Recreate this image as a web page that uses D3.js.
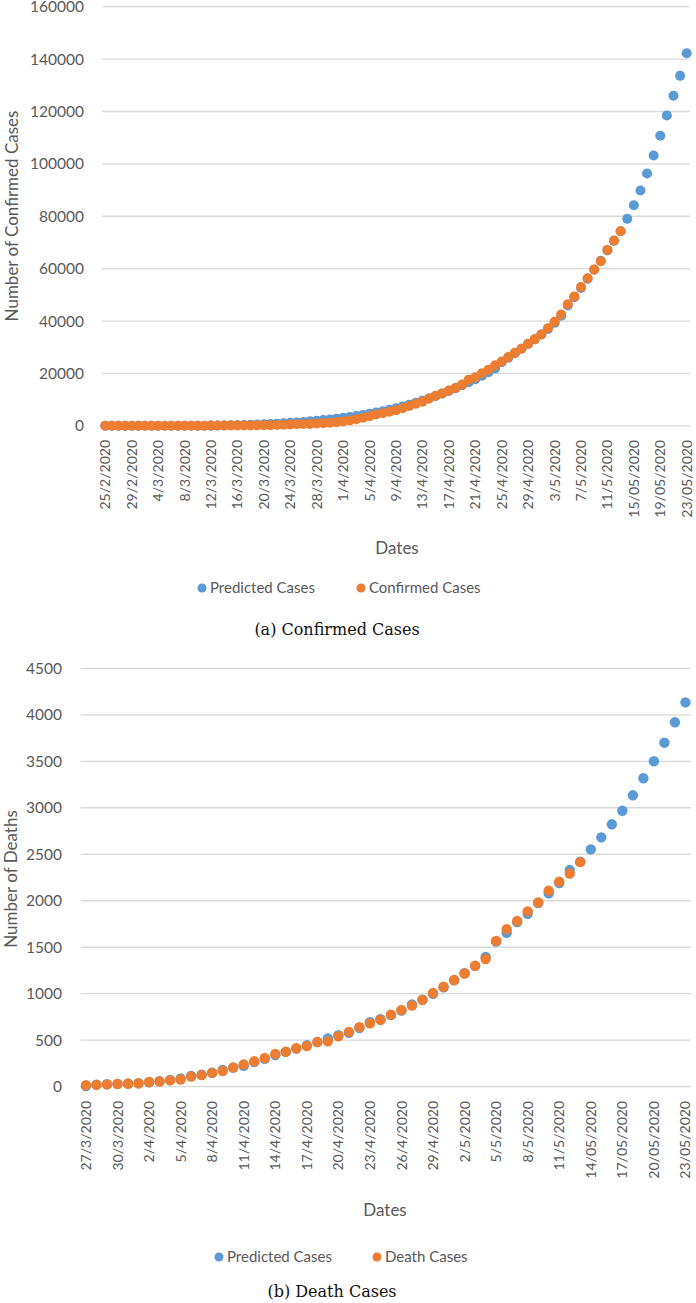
<!DOCTYPE html>
<html>
<head>
<meta charset="utf-8">
<script src="https://cdn.jsdelivr.net/npm/d3@7"></script>
<style>
  body { margin: 0; background: #fff; }
  svg { display: block; }
  .lbl { font-family: Lato, 'Open Sans', sans-serif; fill: #595959; }
  .caption { font-family: 'DejaVu Serif', 'Liberation Serif', serif; fill: #111; }
</style>
</head>
<body>
<svg id="chart" width="696" height="1303"></svg>
<script>
// ---- (a) confirmed cases, one value per day from 25/2/2020 ----
let confirmedA = [
    3, 3, 3, 3, 3, 3, 3, 5, 6, 28,
    30, 31, 34, 39, 48, 63, 71, 81, 91, 102,
    112, 126, 146, 171, 198, 256, 334, 403, 505, 571,
    657, 730, 886, 1029, 1139, 1326, 1635, 2059, 2545, 3105,
    3684, 4293, 4777, 5350, 5915, 6728, 7599, 8453, 9211, 10454,
    11485, 12371, 13432, 14425, 15722, 17615, 18539, 20080, 21370, 23077,
    24530, 26283, 27890, 29451, 31324, 33062, 34863, 37257, 39699, 42505,
    46437, 49400, 52987, 56351, 59695, 62808, 67161, 70768, 74292
];
let predictedA = [
    0, 0, 0, 1, 1, 2, 3, 4, 6, 8,
    11, 14, 18, 22, 25, 45, 70, 100, 140, 190,
    250, 320, 400, 490, 590, 700, 820, 960, 1120, 1290,
    1480, 1690, 1920, 2170, 2440, 2730, 3040, 3380, 3750, 4150,
    4600, 5050, 5550, 6100, 6700, 7350, 8050, 8800, 9600, 10450,
    11350, 12300, 13300, 14350, 15450, 16600, 17800, 19100, 20450, 21900,
    24300, 26000, 27700, 29400, 31200, 33000, 34900, 37000, 39300, 42000,
    45900, 49100, 52600, 56100, 59600, 63000, 66900, 70600, 74300, 79000,
    84200, 89800, 96300, 103200, 110700, 118500, 126000, 133600, 142200
];
let tickLabelsA = ['25/2/2020', '29/2/2020', '4/3/2020', '8/3/2020', '12/3/2020', '16/3/2020',
    '20/3/2020', '24/3/2020', '28/3/2020', '1/4/2020', '5/4/2020', '9/4/2020', '13/4/2020',
    '17/4/2020', '21/4/2020', '25/4/2020', '29/4/2020', '3/5/2020', '7/5/2020', '11/5/2020',
    '15/05/2020', '19/05/2020', '23/05/2020'];

// ---- (b) death cases, one value per day from 27/3/2020 ----
let deathsB = [
    17, 19, 25, 29, 32, 35, 50, 56, 68, 77,
    109, 124, 149, 169, 206, 239, 273, 308, 353, 377,
    414, 437, 480, 488, 543, 590, 640, 681, 718, 775,
    824, 872, 934, 1007, 1075, 1147, 1218, 1301, 1373, 1568,
    1694, 1783, 1886, 1981, 2109, 2206, 2293, 2415
];
let predictedB = [
    8, 22, 26, 30, 35, 38, 48, 60, 72, 88,
    115, 130, 150, 180, 205, 225, 265, 300, 340, 375,
    410, 445, 480, 520, 555, 580, 630, 695, 725, 770,
    820, 885, 935, 1000, 1070, 1145, 1220, 1300, 1395, 1560,
    1655, 1770, 1860, 1975, 2080, 2190, 2330, 2420, 2553, 2682,
    2822, 2968, 3134, 3317, 3500, 3700, 3919, 4134
];
let tickLabelsB = ['27/3/2020', '30/3/2020', '2/4/2020', '5/4/2020', '8/4/2020', '11/4/2020',
    '14/4/2020', '17/4/2020', '20/4/2020', '23/4/2020', '26/4/2020', '29/4/2020', '2/5/2020',
    '5/5/2020', '8/5/2020', '11/5/2020', '14/05/2020', '17/05/2020', '20/05/2020', '23/05/2020'];

let blue = '#5b9bd5', orange = '#ed7d31';
let svg = d3.select('#chart');

function drawPanel(p) {
    let g = svg.append('g');

    let x = d3.scalePoint()
        .domain(d3.range(p.predicted.length))
        .range([p.left, p.right])
        .padding(0.5);
    let y = d3.scaleLinear()
        .domain([0, p.yMax])
        .range([p.bottom, p.top]);

    // gridlines + y labels
    let yTicks = d3.range(0, p.yMax + 1, p.yStep);
    g.selectAll('line.grid').data(yTicks).enter().append('line')
        .attr('x1', p.left).attr('x2', p.right)
        .attr('y1', d => y(d)).attr('y2', d => y(d))
        .attr('stroke', '#d9d9d9').attr('stroke-width', 1.3);
    g.selectAll('text.ytick').data(yTicks).enter().append('text')
        .attr('class', 'lbl')
        .attr('x', p.yLabelX).attr('y', d => y(d))
        .attr('dy', '0.36em')
        .attr('text-anchor', 'end')
        .style('font-size', '15.5px')
        .text(d => d);

    // rotated date labels
    g.selectAll('text.xtick').data(p.tickLabels).enter().append('text')
        .attr('class', 'lbl')
        .attr('transform', (d, i) => 'translate(' + x(i * p.tickStep) + ',' + p.xLabelTop + ') rotate(-90)')
        .attr('dy', '0.36em')
        .attr('text-anchor', 'end')
        .style('font-size', '14px')
        .text(d => d);

    // points: predicted first, actual drawn on top
    g.selectAll('circle.pred').data(p.predicted).enter().append('circle')
        .attr('cx', (d, i) => x(i)).attr('cy', d => y(d))
        .attr('r', p.r).attr('fill', blue);
    g.selectAll('circle.act').data(p.actual).enter().append('circle')
        .attr('cx', (d, i) => x(i)).attr('cy', d => y(d))
        .attr('r', p.r).attr('fill', orange);

    // axis titles
    g.append('text').attr('class', 'lbl')
        .attr('transform', 'translate(' + p.yTitleX + ',' + p.yTitleY + ') rotate(-90)')
        .attr('dy', '0.36em')
        .attr('text-anchor', 'middle')
        .style('font-size', '17px')
        .text(p.yTitle);
    g.append('text').attr('class', 'lbl')
        .attr('x', p.xTitleX).attr('y', p.xTitleY)
        .attr('dy', '0.36em')
        .attr('text-anchor', 'middle')
        .style('font-size', '17px')
        .text('Dates');

    // legend
    let legend = [
        {name: 'Predicted Cases', color: blue, x: p.legendX[0]},
        {name: p.actualName, color: orange, x: p.legendX[1]}
    ];
    let li = g.selectAll('g.legend').data(legend).enter().append('g')
        .attr('transform', d => 'translate(' + d.x + ',' + p.legendY + ')');
    li.append('circle').attr('r', 4.5).attr('fill', d => d.color);
    li.append('text').attr('class', 'lbl')
        .attr('x', 8).attr('dy', '0.36em')
        .style('font-size', '15px')
        .text(d => d.name);

    // caption
    g.append('text').attr('class', 'caption')
        .attr('x', p.captionX).attr('y', p.captionY)
        .attr('text-anchor', 'middle')
        .style('font-size', '16px')
        .text(p.caption);
}

drawPanel({
    predicted: predictedA, actual: confirmedA, actualName: 'Confirmed Cases',
    tickLabels: tickLabelsA, tickStep: 4,
    yMax: 160000, yStep: 20000,
    left: 102, right: 690, top: 6.7, bottom: 425.8, r: 5,
    yLabelX: 84, xLabelTop: 440,
    yTitle: 'Number of Confirmed Cases', yTitleX: 12, yTitleY: 216,
    xTitleX: 397, xTitleY: 548,
    legendX: [202, 361], legendY: 588,
    caption: '(a) Confirmed Cases', captionX: 337, captionY: 635
});

drawPanel({
    predicted: predictedB, actual: deathsB, actualName: 'Death Cases',
    tickLabels: tickLabelsB, tickStep: 3,
    yMax: 4500, yStep: 500,
    left: 80.7, right: 690.7, top: 668.3, bottom: 1086.7, r: 5.2,
    yLabelX: 62, xLabelTop: 1101,
    yTitle: 'Number of Deaths', yTitleX: 11, yTitleY: 879,
    xTitleX: 385, xTitleY: 1210,
    legendX: [219, 377], legendY: 1257,
    caption: '(b) Death Cases', captionX: 332, captionY: 1297
});
</script>
</body>
</html>
